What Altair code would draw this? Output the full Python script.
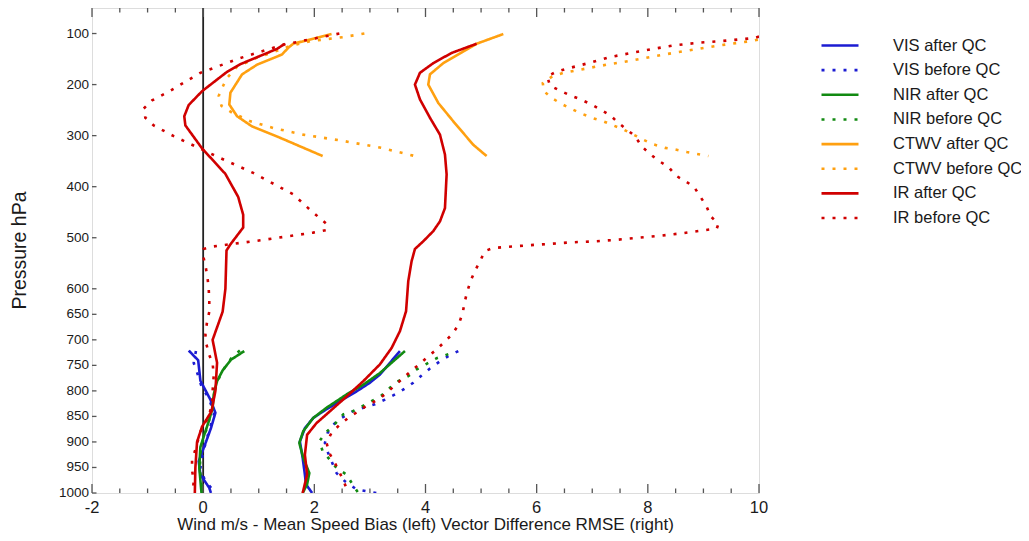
import altair as alt
import pandas as pd

SERIES = ["VIS after QC", "VIS before QC", "NIR after QC", "NIR before QC",
          "CTWV after QC", "CTWV before QC", "IR after QC", "IR before QC"]
COLORS = ["#1c1cd2", "#1c1cd2", "#128a12", "#128a12",
          "#ffa010", "#ffa010", "#d00000", "#d00000"]
DASHES = [[1, 0], [3, 8], [1, 0], [3, 8], [1, 0], [3, 8], [1, 0], [3, 8]]

# ---- VIS ----
vis_after_bias_p = [721, 740, 780, 817, 843, 873, 900, 938, 964, 990, 1000]
vis_after_bias_v = [-0.26, -0.09, -0.05, 0.13, 0.22, 0.14, 0.05, -0.08, -0.05, 0.11, 0.14]
vis_after_rmse_p = [722, 745, 768, 784, 801, 820, 840, 853, 873, 899, 931, 964, 983, 1000]
vis_after_rmse_v = [3.54, 3.36, 3.18, 3.00, 2.76, 2.46, 2.16, 1.98, 1.83, 1.74, 1.79, 1.83, 1.85, 1.96]

vis_before_bias_p = [722, 745, 767, 788, 815, 843, 870, 892, 920, 950, 975, 1000]
vis_before_bias_v = [-0.13, -0.17, -0.10, -0.04, 0.10, 0.20, 0.13, 0.07, 0.00, -0.05, 0.03, 0.22]
vis_before_rmse_p = [722, 732, 743, 756, 770, 784, 796, 807, 817, 826, 833, 841, 853, 866, 882, 902,
                     922, 943, 961, 977, 993, 1000]
vis_before_rmse_v = [4.59, 4.41, 4.25, 4.08, 3.93, 3.78, 3.62, 3.45, 3.27, 3.09, 2.88, 2.67, 2.49, 2.34,
                     2.24, 2.19, 2.25, 2.33, 2.40, 2.55, 2.76, 3.12]

# ---- NIR ----
nir_after_bias_p = [722, 739, 760, 781, 807, 833, 860, 886, 910, 950, 1000]
nir_after_bias_v = [0.74, 0.50, 0.35, 0.25, 0.19, 0.17, 0.10, 0.02, -0.05, -0.07, -0.03]
nir_after_rmse_p = [722, 742, 765, 788, 807, 833, 853, 879, 902, 931, 961, 983, 1000]
nir_after_rmse_v = [3.63, 3.42, 3.18, 2.88, 2.58, 2.22, 1.98, 1.80, 1.73, 1.80, 1.91, 1.87, 1.79]

nir_before_bias_p = [721, 734, 752, 771, 800, 833, 860, 886, 910, 950, 1000]
nir_before_bias_v = [0.66, 0.52, 0.40, 0.30, 0.20, 0.17, 0.10, 0.03, -0.04, -0.06, -0.02]
nir_before_rmse_p = [728, 736, 747, 758, 771, 781, 794, 809, 820, 831, 841, 846, 866, 882, 899, 918,
                     935, 951, 964, 980, 998]
nir_before_rmse_v = [4.41, 4.20, 4.02, 3.84, 3.69, 3.51, 3.36, 3.21, 3.03, 2.85, 2.67, 2.52, 2.36, 2.20,
                     2.09, 2.15, 2.28, 2.40, 2.58, 2.67, 2.78]

# ---- CTWV ----
ctwv_after_bias_p = [101, 120, 128, 141, 161, 180, 216, 239, 262, 282, 304, 340]
ctwv_after_bias_v = [2.31, 1.62, 1.53, 1.42, 0.97, 0.70, 0.49, 0.47, 0.61, 0.88, 1.38, 2.15]
ctwv_after_rmse_p = [101, 120, 135, 158, 180, 200, 236, 272, 318, 340]
ctwv_after_rmse_v = [5.40, 4.92, 4.68, 4.32, 4.08, 4.05, 4.23, 4.50, 4.86, 5.10]

ctwv_before_bias_p = [100, 107, 115, 125, 135, 148, 165, 187, 200, 222, 242, 255, 272, 285, 298, 310, 324, 340]
ctwv_before_bias_v = [2.90, 2.52, 1.92, 1.55, 1.30, 0.95, 0.61, 0.43, 0.37, 0.28, 0.33, 0.52, 0.85, 1.26,
                      1.80, 2.50, 3.21, 3.81]
ctwv_before_rmse_p = [112, 115, 124, 131, 138, 146, 154, 161, 169, 177, 184, 197, 213, 227, 238, 248,
                      257, 265, 272, 280, 288, 298, 308, 317, 324, 327, 332, 340]
ctwv_before_rmse_v = [9.98, 9.84, 9.24, 8.85, 8.46, 8.04, 7.65, 7.26, 6.87, 6.48, 6.28, 6.11, 6.13, 6.28,
                      6.45, 6.63, 6.81, 6.99, 7.20, 7.38, 7.56, 7.74, 7.92, 8.10, 8.31, 8.49, 8.70, 9.09]

# ---- IR ----
ir_after_bias_p = [120, 130, 160, 175, 213, 240, 262, 280, 325, 375, 420, 455, 480, 513, 525, 600, 645,
                   700, 745, 800, 840, 870, 900, 950, 1000]
ir_after_bias_v = [1.47, 1.33, 0.67, 0.43, -0.02, -0.26, -0.34, -0.32, -0.02, 0.40, 0.63, 0.72, 0.72,
                   0.49, 0.42, 0.40, 0.35, 0.17, 0.25, 0.22, 0.15, -0.02, -0.11, -0.14, -0.15]
ir_after_rmse_p = [120, 138, 158, 177, 200, 229, 265, 298, 337, 376, 442, 468, 487, 507, 522, 546, 585,
                   644, 683, 716, 748, 781, 811, 840, 863, 886, 925, 964, 1000]
ir_after_rmse_v = [4.92, 4.47, 4.14, 3.90, 3.81, 3.90, 4.08, 4.26, 4.35, 4.38, 4.35, 4.26, 4.14, 3.96,
                   3.81, 3.75, 3.69, 3.65, 3.54, 3.39, 3.18, 2.88, 2.58, 2.28, 2.04, 1.87, 1.83, 1.87, 1.79]

ir_before_bias_p = [100, 122, 148, 177, 212, 231, 247, 265, 280, 301, 338, 373, 415, 445, 473, 485, 490,
                    505, 517, 522, 540, 560, 580, 600, 625, 645, 665, 688, 705, 730, 745, 770, 800, 825,
                    850, 880, 915, 935, 955, 977, 1000]
ir_before_bias_v = [2.45, 1.44, 0.67, -0.05, -0.59, -0.92, -1.07, -1.04, -0.89, -0.53, 0.19, 0.90, 1.62,
                    1.92, 2.22, 2.22, 1.98, 1.03, 0.19, 0.01, 0.01, 0.05, 0.08, 0.10, 0.11, 0.11, 0.07,
                    0.04, 0.05, 0.11, 0.17, 0.19, 0.17, 0.16, 0.10, -0.05, -0.14, -0.20, -0.20, -0.17, -0.19]
ir_before_rmse_p = [106, 109, 115, 118, 123, 130, 138, 146, 158, 169, 175, 184, 202, 212, 221, 229, 238,
                    249, 260, 275, 288, 301, 321, 336, 349, 361, 378, 389, 400, 419, 437, 458, 473, 482,
                    485, 491, 496, 500, 504, 507, 509, 512, 515, 520, 526, 546, 565, 585, 606, 628, 647,
                    669, 688, 703, 719, 732, 747, 760, 775, 789, 804, 817, 827, 840, 853, 866, 882, 902,
                    922, 941, 961, 980, 1000]
ir_before_rmse_v = [10.0, 9.90, 9.30, 8.91, 8.49, 8.10, 7.71, 7.32, 6.93, 6.54, 6.35, 6.19, 6.24, 6.42,
                    6.60, 6.79, 6.97, 7.15, 7.32, 7.47, 7.62, 7.77, 7.89, 8.04, 8.19, 8.37, 8.50, 8.67,
                    8.83, 8.94, 9.05, 9.13, 9.27, 9.24, 9.03, 8.64, 8.22, 7.83, 7.44, 7.05, 6.63, 6.24,
                    5.82, 5.22, 5.07, 4.98, 4.89, 4.81, 4.75, 4.70, 4.67, 4.60, 4.49, 4.35, 4.20, 4.05,
                    3.90, 3.75, 3.60, 3.45, 3.30, 3.15, 2.97, 2.79, 2.61, 2.46, 2.31, 2.22, 2.27, 2.37,
                    2.46, 2.54, 2.61]

X_MAJOR = [-2, 0, 2, 4, 6, 8, 10]
X_LABELS = ["-2", "0", "2", "4", "6", "8", "10"]
X_MINOR = [-1.5, -1, -0.5, 0.5, 1, 1.5, 2.5, 3, 3.5, 4.5, 5, 5.5, 6.5, 7, 7.5, 8.5, 9, 9.5]
Y_TICKS = [100, 200, 300, 400, 500, 600, 650, 700, 750, 800, 850, 900, 950, 1000]
Y_LABELS = ["100", "200", "300", "400", "500", "600", "650", "700", "750", "800", "850", "900", "950", "1000"]
X_TITLE = ["Wind m/s - Mean Speed Bias (left) Vector Difference RMSE (right)"]
Y_TITLE = ["Pressure hPa"]

curves = [
    ("VIS after QC", vis_after_bias_p, vis_after_bias_v, vis_after_rmse_p, vis_after_rmse_v),
    ("VIS before QC", vis_before_bias_p, vis_before_bias_v, vis_before_rmse_p, vis_before_rmse_v),
    ("NIR after QC", nir_after_bias_p, nir_after_bias_v, nir_after_rmse_p, nir_after_rmse_v),
    ("NIR before QC", nir_before_bias_p, nir_before_bias_v, nir_before_rmse_p, nir_before_rmse_v),
    ("CTWV after QC", ctwv_after_bias_p, ctwv_after_bias_v, ctwv_after_rmse_p, ctwv_after_rmse_v),
    ("CTWV before QC", ctwv_before_bias_p, ctwv_before_bias_v, ctwv_before_rmse_p, ctwv_before_rmse_v),
    ("IR before QC", ir_before_bias_p, ir_before_bias_v, ir_before_rmse_p, ir_before_rmse_v),
    ("IR after QC", ir_after_bias_p, ir_after_bias_v, ir_after_rmse_p, ir_after_rmse_v),
]

rows = []
for name, bp, bv, rp, rv in curves:
    for i, (p, v) in enumerate(zip(bp, bv)):
        rows.append({"series": name, "part": "bias", "idx": i, "p": p, "v": v})
    for i, (p, v) in enumerate(zip(rp, rv)):
        rows.append({"series": name, "part": "rmse", "idx": i, "p": p, "v": v})
df = pd.DataFrame(rows)

FONT = "Liberation Sans"
TXT = "#1a1a1a"
TICK = "#555555"
W, H = 667, 485

legend = alt.Legend(
    title=None, orient="none", legendX=728, legendY=29, symbolType="stroke", symbolSize=1369,
    symbolStrokeWidth=2.6, symbolOffset=0, labelFont=FONT, labelFontSize=16.5, labelColor=TXT,
    labelOffset=33, rowPadding=7.65, clipHeight=17, padding=0, labelLimit=300,
)

xscale = alt.Scale(domain=[-2, 10], nice=False, zero=False)
yscale = alt.Scale(domain=[50, 1000], reverse=True, nice=False, zero=False)


def xticks(vals, y0, y1):
    return alt.Chart(pd.DataFrame({"t": vals})).mark_rule(color=TICK, strokeWidth=1.3).encode(
        x=alt.X("t:Q", scale=xscale, axis=None), y=alt.value(y0), y2=alt.value(y1)
    )


ticks_layers = [
    xticks(X_MAJOR, H, H - 9), xticks(X_MINOR, H, H - 4.5),
    xticks(X_MAJOR, 0, 9), xticks(X_MINOR, 0, 4.5),
    alt.Chart(pd.DataFrame({"t": Y_TICKS})).mark_rule(color=TICK, strokeWidth=1.3).encode(
        y=alt.Y("t:Q", scale=yscale, axis=None), x=alt.value(0), x2=alt.value(4.5)
    ),
]

x_labels = alt.Chart(pd.DataFrame({"t": X_MAJOR, "s": X_LABELS})).mark_text(
    font=FONT, fontSize=16.5, color=TXT, align="center", baseline="top"
).encode(x=alt.X("t:Q", scale=xscale, axis=None), y=alt.value(H + 7), text="s:N")

y_labels = alt.Chart(pd.DataFrame({"t": Y_TICKS, "s": Y_LABELS})).mark_text(
    font=FONT, fontSize=13.5, color=TXT, align="right", baseline="middle"
).encode(y=alt.Y("t:Q", scale=yscale, axis=None), x=alt.value(-3), text="s:N")

x_title = alt.Chart(pd.DataFrame({"s": X_TITLE})).mark_text(
    font=FONT, fontSize=17, color=TXT, align="center", baseline="top"
).encode(x=alt.value(W / 2), y=alt.value(H + 24), text="s:N")

y_title = alt.Chart(pd.DataFrame({"s": Y_TITLE})).mark_text(
    font=FONT, fontSize=19.5, color=TXT, align="center", baseline="middle", angle=270
).encode(x=alt.value(-72), y=alt.value(H / 2), text="s:N")

zero = alt.Chart(pd.DataFrame({"z": [0]})).mark_rule(color="#222222", strokeWidth=1.8).encode(
    x=alt.X("z:Q", scale=xscale, axis=None)
)

lines = alt.Chart(df).mark_line(strokeWidth=2.6, strokeCap="butt", clip=True).encode(
    x=alt.X("v:Q", scale=xscale, axis=None),
    y=alt.Y("p:Q", scale=yscale, axis=None),
    color=alt.Color("series:N", scale=alt.Scale(domain=SERIES, range=COLORS), legend=legend),
    strokeDash=alt.StrokeDash("series:N", scale=alt.Scale(domain=SERIES, range=DASHES), legend=legend),
    detail="part:N",
    order="idx:Q",
)

chart = alt.layer(zero, *ticks_layers, lines, x_labels, y_labels, x_title, y_title).properties(
    width=W, height=H,
    autosize=alt.AutoSizeParams(type="none"),
    padding={"left": 84, "top": 0, "right": 262, "bottom": 40},
).configure_view(stroke="#8c8c8c", strokeWidth=1.6).configure(font=FONT, background="white")

chart.save("out.html", embed_options={"renderer": "svg", "actions": False})
